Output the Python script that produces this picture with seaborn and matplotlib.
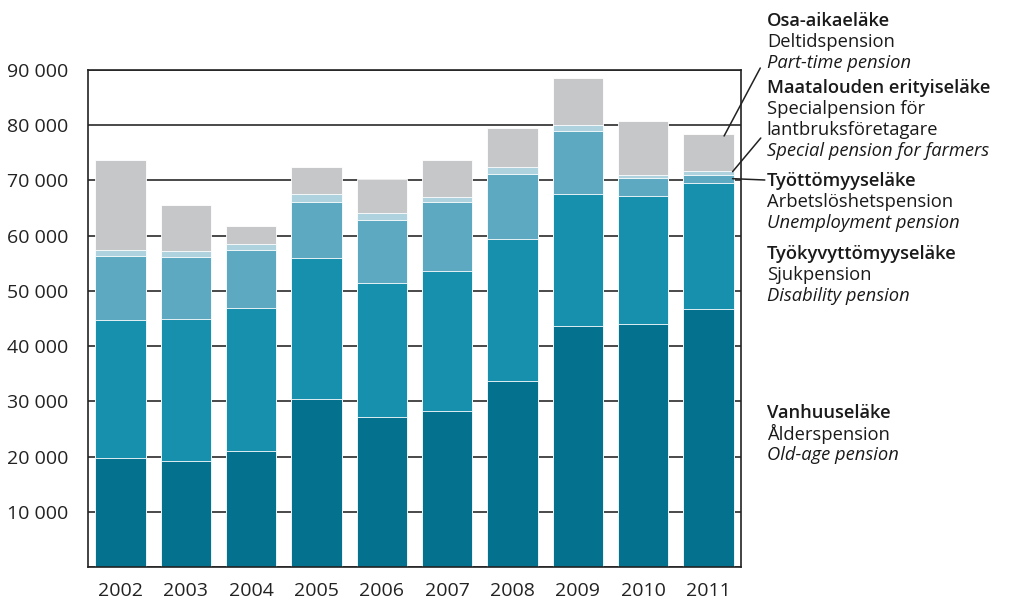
import numpy as np
import pandas as pd
import matplotlib
matplotlib.use("Agg")
import matplotlib.pyplot as plt
from matplotlib.ticker import FuncFormatter, MultipleLocator
import seaborn as sns

### Data (number of new pensions per year)
years = ["2002", "2003", "2004", "2005", "2006", "2007", "2008", "2009", "2010", "2011"]
old_age = [19700, 19260, 21010, 30380, 27230, 28200, 33700, 43600, 44080, 46800]
disability = [25050, 25720, 25910, 25650, 24280, 25360, 25660, 23850, 23010, 22820]
unemployment = [11590, 11230, 10510, 10090, 11230, 12440, 11890, 11410, 3260, 1390]
farmers = [1090, 1090, 1080, 1450, 1330, 1030, 1090, 1090, 610, 670]
part_time = [16300, 8280, 3270, 4890, 6160, 6700, 7130, 8510, 9780, 6760]

series = ["old_age", "disability", "unemployment", "farmers", "part_time"]
colors = {"old_age": "#04728f", "disability": "#1790ae", "unemployment": "#5da9c2",
          "farmers": "#aed3df", "part_time": "#c6c7c9"}

df = pd.DataFrame({"year": years, "old_age": old_age, "disability": disability,
                   "unemployment": unemployment, "farmers": farmers,
                   "part_time": part_time})
cum = df[series].cumsum(axis=1)

sns.set_style("white")
plt.rcParams["font.family"] = ["Open Sans", "DejaVu Sans"]

fig = plt.figure(figsize=(10.11, 6.03), dpi=100)
ax = fig.add_axes([0.087, 0.0597, 0.646, 0.8243])

# stacked bars: draw cumulative totals from the top down
for s in reversed(series):
    sns.barplot(x=df["year"], y=cum[s], color=colors[s], width=0.77,
                edgecolor="white", linewidth=0.6, saturation=1, ax=ax)

ax.set_ylim(0, 90000)
ax.set_xlim(-0.5, 9.5)
ax.yaxis.set_major_locator(MultipleLocator(10000))
ax.yaxis.set_major_formatter(FuncFormatter(
    lambda v, p: "" if v == 0 else f"{int(v):,}".replace(",", " ")))
ax.grid(axis="y", color="#3a3a3a", linewidth=1.3)
ax.set_axisbelow(True)
for sp in ax.spines.values():
    sp.set_visible(True)
    sp.set_color("#222222")
    sp.set_linewidth(1.2)
ax.tick_params(axis="both", length=0, labelsize=14, colors="#222222")
ax.tick_params(axis="y", pad=14)
ax.tick_params(axis="x", pad=11)
ax.set_xlabel("")
ax.set_ylabel("")

### Labels on the right
labels = [
    (0.965, ["Osa-aikaeläke", "Deltidspension", "Part-time pension"]),
    (0.854, ["Maatalouden erityiseläke", "Specialpension för", "lantbruksföretagare",
             "Special pension for farmers"]),
    (0.700, ["Työttömyyseläke", "Arbetslöshetspension", "Unemployment pension"]),
    (0.579, ["Työkyvyttömyyseläke", "Sjukpension", "Disability pension"]),
    (0.315, ["Vanhuuseläke", "Ålderspension", "Old-age pension"]),
]
line_h = 0.0350
for y0, lines in labels:
    for i, t in enumerate(lines):
        weight = "semibold" if i == 0 else "normal"
        style = "italic" if i == len(lines) - 1 else "normal"
        fig.text(0.7585, y0 - i * line_h, t, fontsize=13.2, fontweight=weight,
                 fontstyle=style, color="#1a1a1a", va="center", ha="left")

# leader lines to the 2011 bar
last = len(years) - 1
line_kw = dict(arrowstyle="-", color="#222222", lw=1.1, shrinkA=0, shrinkB=0)
ax.annotate("", xy=(last + 0.24, cum["part_time"][last] - 400),
            xytext=(0.752, 1 - 68 / 603), textcoords="figure fraction",
            arrowprops=line_kw, annotation_clip=False)
ax.annotate("", xy=(last + 0.37, cum["farmers"][last] - 100),
            xytext=(0.7525, 1 - 138 / 603), textcoords="figure fraction",
            arrowprops=line_kw, annotation_clip=False)
ax.annotate("", xy=(last + 0.37, cum["disability"][last] + unemployment[last] / 2),
            xytext=(0.7565, 1 - 180 / 603), textcoords="figure fraction",
            arrowprops=line_kw, annotation_clip=False)

fig.savefig("out.png", dpi=100)
